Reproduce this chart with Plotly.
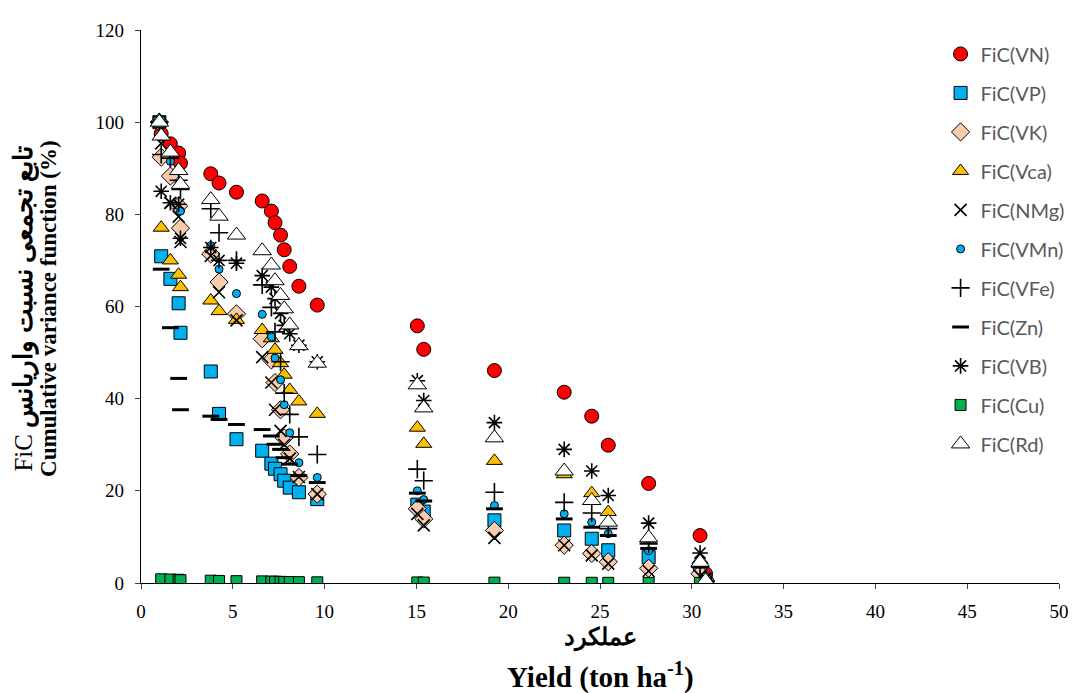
import plotly.graph_objects as go

# Yield positions (ton/ha) shared by all series
yield_x = [1.0, 1.1, 1.6, 2.05, 2.15, 3.8, 4.25, 5.2, 6.6, 7.1, 7.3, 7.6, 7.8, 8.1, 8.6, 9.6,
           15.05, 15.4, 19.25, 23.05, 24.55, 25.45, 27.65, 30.45, 30.75]

fic_vn = [100, 97.5, 95.3, 93.3, 91.1, 88.8, 86.8, 84.8, 82.9, 80.7, 78.2, 75.5, 72.3, 68.7, 64.4, 60.3,
          55.8, 50.7, 46.1, 41.4, 36.2, 29.9, 21.6, 10.3, 2.0]
fic_vp = [100, 70.9, 66.0, 60.7, 54.3, 45.9, 36.7, 31.2, 28.7, 25.9, 24.8, 23.6, 22.2, 20.7, 19.7, 18.2,
          17.0, 15.5, 13.6, 11.4, 9.6, 7.1, 5.6, 3.0, 0.5]
fic_vk = [100, 92.4, 88.3, 81.8, 77.0, 71.4, 65.3, 58.4, 53.0, 48.4, 43.5, 37.6, 31.5, 28.0, 22.9, 19.3,
          16.1, 13.9, 11.4, 8.2, 6.4, 4.6, 3.2, 2.0, 0.5]
fic_vca = [100, 77.1, 70.0, 66.9, 64.2, 61.3, 59.0, 57.1, 54.9, 53.1, 50.6, 47.7, 45.2, 41.9, 39.4, 36.7,
           33.7, 30.2, 26.5, 23.6, 19.5, 15.4, 9.6, 5.0, 0.5]
fic_nmg = [100, 95.4, 82.5, 79.5, 74.0, 71.0, 63.1, 57.0, 49.0, 43.5, 37.6, 33.0, 30.0, 27.0, 23.0, 19.3,
           15.0, 12.5, 9.8, 8.2, 6.0, 4.2, 2.6, 1.5, 0.3]
fic_vmn = [100, 97.2, 91.5, 86.5, 80.7, 73.2, 68.1, 62.8, 58.3, 53.4, 48.8, 44.1, 38.7, 32.6, 26.1, 22.9,
           20.0, 18.1, 16.8, 15.0, 13.2, 10.7, 7.0, 4.0, 0.5]
fic_vfe = [100, 93.0, 92.2, 87.4, 85.4, 81.2, 76.0, 70.0, 64.7, 59.8, 54.5, 48.0, 41.2, 36.6, 31.7, 27.9,
           24.7, 22.2, 19.7, 17.5, 15.2, 11.8, 8.5, 3.5, 0.3]
fic_zn = [100, 68.1, 55.4, 44.4, 37.6, 36.2, 35.5, 34.4, 33.3, 31.9, 30.1, 29.0, 27.2, 25.8, 23.3, 21.8,
          19.5, 17.8, 16.1, 13.9, 12.1, 10.3, 7.5, 3.5, 0.3]
fic_vb = [100, 85.0, 82.5, 82.2, 74.8, 72.8, 70.0, 69.4, 66.7, 64.2, 61.7, 58.5, 55.9, 54.1, 51.6, 48.0,
          43.9, 39.6, 34.8, 29.0, 24.3, 19.0, 13.0, 6.5, 1.0]
fic_cu = [100, 0.8, 0.75, 0.7, 0.6, 0.5, 0.45, 0.4, 0.35, 0.3, 0.28, 0.25, 0.22, 0.2, 0.18, 0.15,
          0.12, 0.1, 0.08, 0.06, 0.05, 0.04, 0.03, 0.02, 0.0]
fic_rd = [100, 97.0, 93.5, 89.5, 86.5, 83.2, 79.6, 75.5, 72.1, 69.0, 65.6, 62.4, 59.5, 56.0, 51.5, 47.7,
          43.0, 38.0, 31.5, 24.3, 17.9, 13.2, 9.8, 4.5, 0.5]

series_names = ["FiC(VN)", "FiC(VP)", "FiC(VK)", "FiC(Vca)", "FiC(NMg)", "FiC(VMn)",
                "FiC(VFe)", "FiC(Zn)", "FiC(VB)", "FiC(Cu)", "FiC(Rd)"]
series_values = [fic_vn, fic_vp, fic_vk, fic_vca, fic_nmg, fic_vmn, fic_vfe, fic_zn, fic_vb, fic_cu, fic_rd]

x_ticks = [0, 5, 10, 15, 20, 25, 30, 35, 40, 45, 50]
y_ticks = [0, 20, 40, 60, 80, 100, 120]

styles = [
    dict(symbol="circle", size=14, color="#FF0000", line=dict(color="#000000", width=1)),
    dict(symbol="square", size=13, color="#00B0F0", line=dict(color="#000000", width=1)),
    dict(symbol="diamond", size=14, color="#F8CBAD", line=dict(color="#000000", width=1)),
    dict(symbol="triangle-up", size=14, color="#FFC000", line=dict(color="#000000", width=1)),
    dict(symbol="x-thin-open", size=12, color="#000000", line=dict(color="#000000", width=1.6)),
    dict(symbol="circle", size=8, color="#00B0F0", line=dict(color="#000000", width=1)),
    dict(symbol="cross-thin-open", size=13, color="#000000", line=dict(color="#000000", width=1.6)),
    dict(symbol="line-ew-open", size=12, color="#000000", line=dict(color="#000000", width=3)),
    dict(symbol="asterisk-open", size=13, color="#000000", line=dict(color="#000000", width=1.6)),
    dict(symbol="square", size=11, color="#00B050", line=dict(color="#000000", width=1)),
    dict(symbol="triangle-up", size=16, color="#FFFFFF", line=dict(color="#000000", width=1)),
]

fig = go.Figure()
for i, (name, vals, st) in enumerate(zip(series_names, series_values, styles)):
    fig.add_trace(go.Scatter(
        x=yield_x, y=vals, mode="markers", name=name,
        legendgroup=f"g{i}", marker=st,
    ))

fig.update_layout(
    width=1074, height=685,
    margin=dict(l=133, r=13, t=15, b=110),
    plot_bgcolor="white", paper_bgcolor="white",
    font=dict(family="Liberation Serif", color="#000000"),
    showlegend=True,
    legend=dict(
        x=0.871, y=0.992, xanchor="left", yanchor="top",
        font=dict(family="Lato", size=20, color="#595959"),
        bgcolor="rgba(0,0,0,0)", tracegroupgap=10, traceorder="grouped",
    ),
    xaxis=dict(
        range=[0, 50], tickvals=x_ticks, ticks="outside", ticklen=5, tickwidth=1.3,
        showline=True, linecolor="#000000", linewidth=1.3, showgrid=False, zeroline=False,
        ticklabelstandoff=6,
        tickfont=dict(family="Liberation Serif", size=19, color="#000000"),
    ),
    yaxis=dict(
        range=[0, 120], tickvals=y_ticks, ticks="outside", ticklen=5, tickwidth=1.3,
        showline=True, linecolor="#000000", linewidth=1.3, showgrid=False, zeroline=False,
        ticklabelstandoff=7,
        tickfont=dict(family="Liberation Serif", size=19, color="#000000"),
    ),
    annotations=[
        dict(text="<b>عملکرد</b>", xref="paper", yref="paper", x=0.5, y=-0.1,
             xanchor="center", yanchor="middle", showarrow=False,
             font=dict(family="Liberation Serif", size=24, color="#000000")),
        dict(text="<b>Yield (ton ha<sup>-1</sup>)</b>", xref="paper", yref="paper", x=0.5, y=-0.167,
             xanchor="center", yanchor="middle", showarrow=False,
             font=dict(family="Liberation Serif", size=29, color="#000000")),
        dict(text="<span style='font-size:25px'>FiC</span> <b>تابع تجمعی نسبت واریانس</b>",
             xref="paper", yref="paper", x=-0.127, y=0.497,
             xanchor="center", yanchor="middle", showarrow=False, textangle=-90,
             font=dict(family="Liberation Serif", size=26, color="#000000")),
        dict(text="<b>Cumulative variance function (%)</b>", xref="paper", yref="paper", x=-0.1015, y=0.497,
             xanchor="center", yanchor="middle", showarrow=False, textangle=-90,
             font=dict(family="Liberation Serif", size=23, color="#000000")),
    ],
)

fig.write_html("out.html")
